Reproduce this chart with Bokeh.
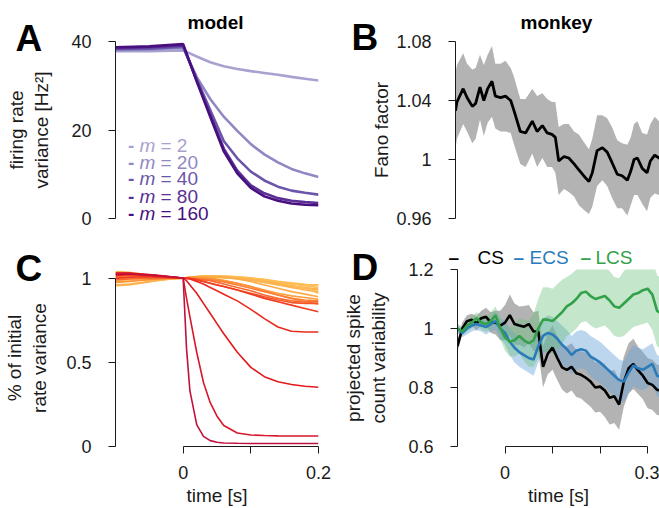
from bokeh.plotting import figure
from bokeh.layouts import row, column
from bokeh.models import Range1d, FixedTicker
from bokeh.core.properties import value
from bokeh.embed import file_html
from bokeh.resources import INLINE

FONT = "Liberation Sans"
INK = "#1a1a1a"

# ---------------- data: panel A (model, firing-rate variance) ----------------
a_time = [-0.1, -0.05, 0.0, 0.02, 0.04, 0.06, 0.08, 0.1, 0.12, 0.14, 0.16, 0.18, 0.2]
a_m2 = [37.8, 37.8, 38.0, 36.6, 35.3, 34.4, 33.8, 33.3, 32.9, 32.5, 32.0, 31.6, 31.2]
a_m20 = [38.1, 38.2, 38.6, 32.0, 27.0, 23.0, 19.8, 16.8, 14.5, 12.7, 11.2, 10.2, 9.4]
a_m40 = [38.3, 38.4, 38.8, 31.5, 24.5, 17.5, 13.6, 10.6, 8.6, 7.2, 6.3, 5.8, 5.4]
a_m80 = [38.5, 38.7, 39.1, 31.2, 23.5, 15.8, 10.8, 7.5, 5.7, 4.6, 4.0, 3.7, 3.5]
a_m160 = [38.7, 38.9, 39.4, 31.0, 23.0, 15.2, 10.2, 6.9, 5.0, 4.0, 3.4, 3.1, 3.0]
a_m_values = ["2", "20", "40", "80", "160"]
a_colors = ["#a8a2d0", "#8f88c4", "#6b56aa", "#5a2f96", "#48107f"]

# ---------------- data: panel B (monkey, Fano factor) ----------------
b_time = [-0.100, -0.097, -0.084, -0.076, -0.065, -0.058, -0.049, -0.041, -0.033, -0.024,
          -0.017, -0.006, 0.004, 0.015, 0.022, 0.035, 0.046, 0.060, 0.070, 0.081,
          0.091, 0.101, 0.108, 0.115, 0.126, 0.136, 0.147, 0.157, 0.167, 0.178,
          0.185, 0.195, 0.206, 0.216, 0.226, 0.237, 0.247, 0.258, 0.265, 0.272,
          0.279, 0.289, 0.299, 0.306, 0.315, 0.324, 0.330]
b_fano = [1.033, 1.039, 1.048, 1.042, 1.036, 1.038, 1.049, 1.040, 1.048, 1.053,
          1.043, 1.042, 1.043, 1.040, 1.033, 1.019, 1.018, 1.026, 1.019, 1.023,
          1.018, 1.017, 1.015, 0.999, 1.002, 1.001, 0.997, 0.993, 0.989, 0.985,
          0.991, 1.006, 1.008, 1.005, 0.998, 0.990, 0.989, 0.986, 0.992, 1.000,
          1.001, 0.994, 0.991, 0.999, 1.003, 1.001, 1.001]
b_err = [0.026, 0.025, 0.024, 0.023, 0.025, 0.024, 0.022, 0.024, 0.023, 0.024,
         0.022, 0.023, 0.024, 0.022, 0.023, 0.022, 0.023, 0.022, 0.024, 0.022,
         0.023, 0.022, 0.024, 0.023, 0.022, 0.023, 0.022, 0.024, 0.023, 0.022,
         0.023, 0.024, 0.022, 0.023, 0.024, 0.023, 0.022, 0.024, 0.023, 0.024,
         0.025, 0.024, 0.026, 0.025, 0.026, 0.025, 0.025]

# ---------------- data: panel C (fraction of initial rate variance) ----------------
c_time = [-0.1, -0.08, -0.06, -0.04, -0.02, 0.0, 0.005, 0.01, 0.02, 0.03,
          0.04, 0.05, 0.06, 0.08, 0.1, 0.12, 0.14, 0.16, 0.18, 0.2]
c_01 = [1.02, 1.025, 1.02, 1.015, 1.008, 1.0, 0.58, 0.33, 0.13, 0.06, 0.035, 0.025, 0.021, 0.019, 0.018, 0.018, 0.018, 0.018, 0.018, 0.018]
c_02 = [1.03, 1.03, 1.025, 1.018, 1.01, 1.0, 0.88, 0.77, 0.56, 0.38, 0.26, 0.18, 0.125, 0.08, 0.068, 0.065, 0.063, 0.062, 0.062, 0.062]
c_03 = [1.025, 1.027, 1.022, 1.015, 1.008, 1.0, 0.985, 0.96, 0.91, 0.85, 0.79, 0.73, 0.67, 0.56, 0.47, 0.415, 0.385, 0.368, 0.358, 0.352]
c_04 = [1.015, 1.02, 1.018, 1.012, 1.006, 1.0, 0.998, 0.995, 0.98, 0.965, 0.945, 0.925, 0.905, 0.865, 0.815, 0.76, 0.71, 0.685, 0.68, 0.68]
c_05 = [1.0, 1.005, 1.008, 1.006, 1.003, 1.0, 1.0, 0.998, 0.99, 0.98, 0.97, 0.96, 0.95, 0.93, 0.905, 0.88, 0.86, 0.84, 0.82, 0.80]
c_06 = [1.03, 1.03, 1.02, 1.012, 1.005, 1.0, 1.0, 0.998, 0.99, 0.98, 0.97, 0.96, 0.95, 0.93, 0.91, 0.89, 0.87, 0.855, 0.85, 0.85]
c_07 = [0.99, 0.995, 0.998, 0.999, 1.0, 1.0, 1.0, 1.0, 0.995, 0.99, 0.985, 0.975, 0.965, 0.945, 0.925, 0.9, 0.88, 0.865, 0.86, 0.86]
c_08 = [1.01, 1.012, 1.01, 1.007, 1.003, 1.0, 1.0, 1.0, 0.998, 0.995, 0.99, 0.985, 0.978, 0.96, 0.94, 0.92, 0.9, 0.88, 0.87, 0.865]
c_09 = [0.975, 0.98, 0.988, 0.994, 0.998, 1.0, 1.0, 1.0, 1.0, 0.998, 0.995, 0.99, 0.985, 0.97, 0.95, 0.925, 0.9, 0.88, 0.86, 0.845]
c_10 = [1.0, 1.005, 1.006, 1.004, 1.002, 1.0, 1.002, 1.004, 1.006, 1.005, 1.0, 0.995, 0.988, 0.97, 0.95, 0.93, 0.91, 0.895, 0.885, 0.875]
c_11 = [1.02, 1.02, 1.015, 1.01, 1.005, 1.0, 1.002, 1.005, 1.008, 1.01, 1.01, 1.008, 1.005, 0.995, 0.98, 0.96, 0.94, 0.92, 0.905, 0.89]
c_12 = [0.96, 0.965, 0.975, 0.985, 0.994, 1.0, 1.002, 1.004, 1.008, 1.01, 1.01, 1.01, 1.008, 1.0, 0.99, 0.975, 0.96, 0.945, 0.93, 0.92]
c_13 = [1.035, 1.03, 1.02, 1.012, 1.005, 1.0, 1.003, 1.006, 1.01, 1.012, 1.012, 1.01, 1.008, 1.002, 0.995, 0.985, 0.97, 0.955, 0.94, 0.93]
c_14 = [0.98, 0.985, 0.99, 0.994, 0.998, 1.0, 1.002, 1.004, 1.006, 1.007, 1.007, 1.006, 1.004, 1.0, 0.995, 0.985, 0.975, 0.965, 0.955, 0.945]
c_15 = [0.99, 0.988, 0.99, 0.994, 0.998, 1.0, 1.002, 1.004, 1.008, 1.01, 1.012, 1.012, 1.011, 1.008, 1.002, 0.993, 0.982, 0.972, 0.963, 0.955]
c_16 = [1.04, 1.035, 1.025, 1.015, 1.006, 1.0, 1.002, 1.004, 1.007, 1.008, 1.008, 1.007, 1.005, 1.0, 0.992, 0.98, 0.968, 0.955, 0.945, 0.935]
c_17 = [0.955, 0.96, 0.972, 0.985, 0.995, 1.0, 1.002, 1.005, 1.009, 1.012, 1.013, 1.013, 1.012, 1.008, 1.0, 0.99, 0.978, 0.968, 0.96, 0.96]
c_18 = [1.0, 0.998, 0.996, 0.997, 0.999, 1.0, 1.001, 1.003, 1.005, 1.006, 1.006, 1.005, 1.003, 0.997, 0.988, 0.975, 0.962, 0.95, 0.94, 0.91]
c_colors = ["#c0113d", "#d7172a", "#e31a1c", "#ea2a1c", "#f03b20", "#f5522a", "#f86a2e", "#fa7f35",
            "#fc9139", "#fd9e3f", "#fdab45", "#feb24c", "#feb84f", "#fdbb52", "#fec054", "#fdb14a",
            "#fdb94f", "#fec35a"]

# ---------------- data: panel D (projected spike count variability) ----------------
d_time = [-0.10, -0.09, -0.08, -0.07, -0.06, -0.05, -0.04, -0.03, -0.02, -0.01,
          0.00, 0.01, 0.02, 0.03, 0.04, 0.05, 0.06, 0.07, 0.08, 0.09,
          0.10, 0.11, 0.12, 0.13, 0.14, 0.15, 0.16, 0.17, 0.18, 0.19,
          0.20, 0.21, 0.22, 0.23, 0.24, 0.25, 0.26, 0.27, 0.28, 0.29,
          0.30, 0.31, 0.32, 0.33]
d_cs = [0.94, 1.00, 1.025, 1.03, 1.017, 1.035, 1.04, 1.02, 1.02, 1.01,
        1.02, 1.045, 1.015, 1.01, 1.006, 1.015, 0.99, 0.99, 0.87, 0.915,
        0.935, 0.90, 0.868, 0.86, 0.87, 0.848, 0.843, 0.833, 0.82, 0.80,
        0.803, 0.79, 0.765, 0.77, 0.742, 0.82, 0.865, 0.88, 0.858, 0.84,
        0.815, 0.809, 0.792, 0.79]
d_cs_err = [0.02, 0.02, 0.02, 0.02, 0.025, 0.025, 0.03, 0.035, 0.04, 0.05,
            0.06, 0.07, 0.07, 0.065, 0.07, 0.065, 0.065, 0.07, 0.07, 0.07,
            0.075, 0.075, 0.075, 0.08, 0.08, 0.08, 0.08, 0.085, 0.085, 0.085,
            0.085, 0.09, 0.09, 0.09, 0.085, 0.085, 0.085, 0.085, 0.08, 0.08,
            0.085, 0.085, 0.085, 0.085]
d_ecs = [1.0, 0.985, 1.0, 1.01, 1.015, 1.01, 1.005, 1.015, 1.025, 1.0,
         0.985, 0.955, 0.935, 0.92, 0.91, 0.90, 0.895, 0.94, 0.975, 0.985,
         0.98, 0.965, 0.945, 0.93, 0.91, 0.925, 0.93, 0.925, 0.905, 0.895,
         0.885, 0.87, 0.855, 0.84, 0.825, 0.82, 0.85, 0.875, 0.865, 0.86,
         0.87, 0.88, 0.84, 0.835]
d_ecs_err = [0.015, 0.015, 0.02, 0.02, 0.02, 0.02, 0.025, 0.025, 0.03, 0.035,
             0.04, 0.045, 0.05, 0.05, 0.05, 0.05, 0.055, 0.055, 0.06, 0.06,
             0.06, 0.06, 0.065, 0.065, 0.065, 0.065, 0.065, 0.065, 0.07, 0.07,
             0.07, 0.07, 0.07, 0.07, 0.07, 0.07, 0.07, 0.07, 0.07, 0.07,
             0.07, 0.07, 0.07, 0.07]
d_lcs = [1.0, 0.99, 1.01, 1.02, 1.035, 1.02, 1.015, 1.025, 1.045, 1.0,
         0.97, 0.955, 0.96, 0.975, 0.96, 0.95, 0.96, 1.0, 1.03, 1.03,
         1.025, 1.04, 1.055, 1.075, 1.085, 1.10, 1.12, 1.125, 1.11, 1.10,
         1.105, 1.11, 1.095, 1.075, 1.07, 1.085, 1.10, 1.115, 1.12, 1.13,
         1.135, 1.115, 1.06, 1.05]
d_lcs_err = [0.015, 0.015, 0.02, 0.02, 0.02, 0.025, 0.025, 0.03, 0.03, 0.035,
             0.045, 0.05, 0.055, 0.06, 0.07, 0.08, 0.09, 0.1, 0.11, 0.11,
             0.11, 0.11, 0.11, 0.1, 0.1, 0.1, 0.1, 0.1, 0.1, 0.1,
             0.1, 0.1, 0.1, 0.1, 0.1, 0.11, 0.11, 0.11, 0.11, 0.115,
             0.115, 0.12, 0.12, 0.12]
d_names = ["CS", "ECS", "LCS"]
d_colors = ["#000000", "#2b7bba", "#33a04a"]
d_band_colors = ["#808080", "#6aa6d6", "#6cc07a"]
d_band_alpha = [0.6, 0.45, 0.4]

# ---------------- layout geometry (page pixels) ----------------
W, H = 659, 508
LW, RW = 340, 319
TH, BH = 230, 278
L_LEFT, L_RIGHT = 115, 22
R_LEFT, R_RIGHT = 115, 0
T_TOP, T_BOT = 41, 12
B_TOP, B_BOT = 39, 61
PX_PER_S_RIGHT = 480.0

AC_X = (-0.1, 0.2)
BD_X = (-0.1, -0.1 + (RW - R_LEFT - R_RIGHT) / PX_PER_S_RIGHT)
A_Y = (0.0, 40.0)
B_Y = (0.96, 1.08)
C_Y = (0.0, 1.0515)
D_Y = (0.6, 1.2)


def make_fig(w, h, xr, yr, left, right, top, bottom, has_x):
    p = figure(width=w, height=h, x_range=Range1d(*xr), y_range=Range1d(*yr),
               output_backend="svg", toolbar_location=None,
               x_axis_location="below" if has_x else None,
               min_border_left=left, min_border_right=right,
               min_border_top=top, min_border_bottom=bottom)
    p.grid.visible = False
    p.outline_line_color = None
    for ax in p.axis:
        ax.axis_line_color = INK
        ax.axis_line_width = 1
        ax.major_tick_line_color = INK
        ax.major_tick_out = 7
        ax.major_tick_in = 0
        ax.minor_tick_line_color = None
        ax.major_label_text_font = FONT
        ax.major_label_text_font_size = "18px"
        ax.major_label_text_color = INK
        ax.major_label_standoff = 17
        ax.axis_label_text_font = FONT
        ax.axis_label_text_font_size = "19px"
        ax.axis_label_text_font_style = "normal"
        ax.axis_label_text_color = INK
    return p


# ---------------- panel A ----------------
pA = make_fig(LW, TH, AC_X, A_Y, L_LEFT, L_RIGHT, T_TOP, T_BOT, False)
for series, col in zip([a_m2, a_m20, a_m40, a_m80, a_m160], a_colors):
    pA.line(a_time, series, line_color=col, line_width=2.6)
pA.yaxis.ticker = FixedTicker(ticks=[0, 20, 40])
pA.yaxis.axis_label = "firing rate\nvariance [Hz²]"
pA.yaxis.axis_label_standoff = 16

# ---------------- panel B ----------------
pB = make_fig(RW, TH, BD_X, B_Y, R_LEFT, R_RIGHT, T_TOP, T_BOT, False)
b_lo = [v - e for v, e in zip(b_fano, b_err)]
b_hi = [v + e for v, e in zip(b_fano, b_err)]
pB.varea(x=b_time, y1=b_lo, y2=b_hi, fill_color="#b3b3b3", fill_alpha=1.0)
pB.line(b_time, b_fano, line_color="#000000", line_width=2.8)
pB.yaxis.ticker = FixedTicker(ticks=[0.96, 1.0, 1.04, 1.08])
pB.yaxis.major_label_overrides = {0.96: "0.96", 1.0: "1", 1.04: "1.04", 1.08: "1.08"}
pB.yaxis.axis_label = "Fano factor"
pB.yaxis.axis_label_standoff = 1

# ---------------- panel C ----------------
pC = make_fig(LW, BH, AC_X, C_Y, L_LEFT, L_RIGHT, B_TOP, B_BOT, True)
c_curves = [c_01, c_02, c_03, c_04, c_05, c_06, c_07, c_08, c_09, c_10,
            c_11, c_12, c_13, c_14, c_15, c_16, c_17, c_18]
for series, col in reversed(list(zip(c_curves, c_colors))):
    pC.line(c_time, series, line_color=col, line_width=1.6)
pC.yaxis.ticker = FixedTicker(ticks=[0, 0.5, 1.0])
pC.yaxis.major_label_overrides = {0: "0", 0.5: "0.5", 1.0: "1"}
pC.yaxis.bounds = (0, 1)
pC.yaxis.axis_label = "% of initial\nrate variance"
pC.yaxis.axis_label_standoff = 13
pC.xaxis.ticker = FixedTicker(ticks=[0, 0.1, 0.2])
pC.xaxis.major_label_overrides = {0: "0", 0.1: "", 0.2: "0.2"}
pC.xaxis.bounds = (0, 0.2)
pC.xaxis.axis_label = "time [s]"
pC.xaxis.major_label_standoff = 12
pC.xaxis.axis_label_standoff = 3

# ---------------- panel D ----------------
pD = make_fig(RW, BH, BD_X, D_Y, R_LEFT, R_RIGHT, B_TOP, B_BOT, True)
d_series = [d_cs, d_ecs, d_lcs]
d_errs = [d_cs_err, d_ecs_err, d_lcs_err]
for series, err, bcol, balpha in zip(d_series, d_errs, d_band_colors, d_band_alpha):
    lo = [v - e for v, e in zip(series, err)]
    hi = [v + e for v, e in zip(series, err)]
    pD.varea(x=d_time, y1=lo, y2=hi, fill_color=bcol, fill_alpha=balpha)
for series, col in zip(d_series, d_colors):
    pD.line(d_time, series, line_color=col, line_width=2.6)
pD.yaxis.ticker = FixedTicker(ticks=[0.6, 0.8, 1.0, 1.2])
pD.yaxis.major_label_overrides = {0.6: "0.6", 0.8: "0.8", 1.0: "1", 1.2: "1.2"}
pD.yaxis.axis_label = "projected spike\ncount variability"
pD.yaxis.axis_label_standoff = 16
pD.xaxis.ticker = FixedTicker(ticks=[0, 0.1, 0.2, 0.3])
pD.xaxis.major_label_overrides = {0: "0", 0.1: "", 0.2: "", 0.3: "0.3"}
pD.xaxis.bounds = (0, 0.3)
pD.xaxis.axis_label = "time [s]"
pD.xaxis.major_label_standoff = 12
pD.xaxis.axis_label_standoff = 3

# ---------------- text layer (panel letters, titles, legends) in page pixels ----------------
ov = figure(width=W, height=H, x_range=Range1d(0, W), y_range=Range1d(H, 0),
            output_backend="svg", toolbar_location=None,
            x_axis_location=None, y_axis_location=None, min_border=0,
            background_fill_color=None, border_fill_color=None)
ov.outline_line_color = None
ov.grid.visible = False


def ov_text(xs, ys, texts, size, colors, style="normal", align="left"):
    ov.text(x=xs, y=ys, text=texts, text_font=value(FONT), text_font_size=value(size),
            text_color=colors, text_font_style=style, text_align=align,
            text_baseline="alphabetic")


ov_text([15, 351, 15, 351], [38.3, 36.7, 268.3, 266.7], ["A", "B", "C", "D"], "37px",
        ["#000000"] * 4, style="bold")
ov_text([215, 556], [21.5, 21.5], ["model", "monkey"], "19px", ["#000000"] * 2,
        style="bold", align="center")

a_leg_base = [145, 161.7, 178.3, 196, 213.3]
ov_text([127.5] * 5, a_leg_base, ["-"] * 5, "19px", a_colors, style="bold")
ov_text([139] * 5, a_leg_base, ["m"] * 5, "19px", a_colors, style="italic")
ov_text([160] * 5, a_leg_base, ["= " + m for m in a_m_values], "19px", a_colors)

ov_text([448, 513, 580], [256.7] * 3, ["–"] * 3, "19px", d_colors, style="bold")
ov_text([477, 529, 595], [256.7] * 3, d_names, "19px", d_colors)

panels = column(row(pA, pB), row(pC, pD))
ov.margin = (-H, 0, 0, 0)
layout = column(panels, ov)
open("out.html", "w").write(file_html(layout, INLINE))
